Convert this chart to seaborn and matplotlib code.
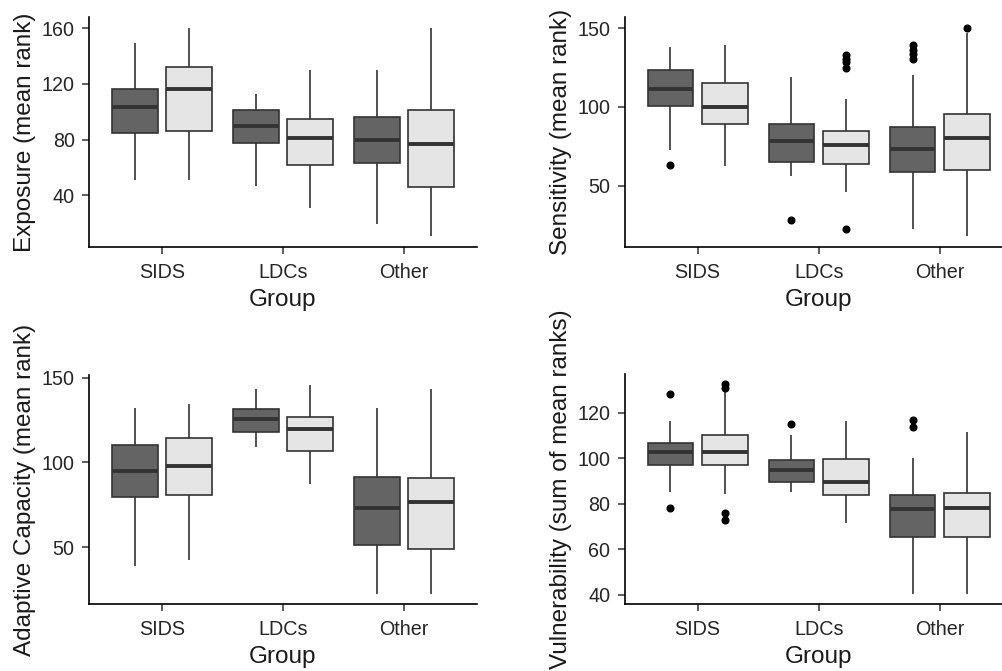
import pandas as pd
import seaborn as sns
import matplotlib.pyplot as plt

# categories
groups = ["SIDS", "LDCs", "Other"]
levels = ["Set A", "Set B"]

# box summaries (lower whisker, Q1, median, Q3, upper whisker), order:
# SIDS-A, SIDS-B, LDCs-A, LDCs-B, Other-A, Other-B
exposure_boxes = [(51.1, 84.6, 103.1, 116.6, 149.2), (51.1, 86.5, 116.1, 132.5, 160.5),
                  (46.7, 77.3, 89.9, 101.0, 112.8), (30.6, 61.7, 81.4, 94.9, 130.4),
                  (19.5, 62.9, 79.8, 96.6, 130.4), (10.4, 46.0, 76.9, 101.0, 160.5)]
exposure_out = [[], [], [], [], [], []]

sensitivity_boxes = [(72.4, 100.7, 111.5, 123.6, 138.0), (62.3, 89.1, 100.1, 115.1, 139.4),
                     (55.9, 65.0, 78.6, 89.3, 118.9), (46.0, 63.7, 76.0, 84.5, 105.2),
                     (22.5, 58.7, 73.5, 87.0, 120.4), (17.7, 60.1, 80.0, 95.5, 147.0)]
sensitivity_out = [[63.3], [], [27.8], [22.5, 124.5, 128.5, 130.5, 133.0],
                   [130.6, 133.5, 136.3, 139.5], [150.4]]

adaptive_boxes = [(38.9, 79.8, 94.7, 110.5, 132.2), (42.5, 80.8, 98.0, 114.2, 134.8),
                  (108.9, 117.8, 125.7, 131.8, 143.1), (87.4, 106.9, 119.8, 127.1, 145.5),
                  (22.5, 51.2, 73.3, 91.5, 132.2), (22.5, 48.6, 76.9, 90.5, 143.1)]
adaptive_out = [[], [], [], [], [], []]

vulner_boxes = [(85.4, 97.0, 102.9, 106.8, 116.6), (84.5, 97.0, 102.9, 110.2, 129.0),
                (85.4, 89.5, 95.0, 99.5, 110.5), (71.5, 83.9, 89.7, 99.8, 116.6),
                (40.6, 65.5, 77.6, 83.9, 100.0), (40.6, 65.5, 78.3, 84.6, 111.5)]
vulner_out = [[78.2, 128.5], [72.9, 75.8, 131.0, 132.5], [115.2], [], [113.9, 116.8], []]

panels = [
    ("Exposure (mean rank)", exposure_boxes, exposure_out, [40, 80, 120, 160]),
    ("Sensitivity (mean rank)", sensitivity_boxes, sensitivity_out, [50, 100, 150]),
    ("Adaptive Capacity (mean rank)", adaptive_boxes, adaptive_out, [50, 100, 150]),
    ("Vulnerability (sum of mean ranks)", vulner_boxes, vulner_out, [40, 60, 80, 100, 120]),
]


def make_table(boxes, outliers, reps=10):
    # observation table whose quartiles / whiskers reproduce the read-off summaries
    rows = []
    i = 0
    for g in groups:
        for lv in levels:
            lo, q1, med, q3, hi = boxes[i]
            vals = [lo] + [q1] * reps + [med] * reps + [q3] * reps + [hi] + list(outliers[i])
            rows += [(g, lv, v) for v in vals]
            i += 1
    return pd.DataFrame(rows, columns=["Group", "Set", "value"])


sns.set_style("ticks")
plt.rcParams['font.family'] = ['Liberation Sans', 'DejaVu Sans']

fig = plt.figure(figsize=(10.02, 6.71), dpi=100)
W, H = 1002, 671
pos = [(89.3, 17.3), (625.0, 17.3), (89.3, 375.0), (625.0, 374.0)]
bottoms = [246.7, 246.7, 604.0, 604.0]

for (lab, boxes, outs, yt), (x0, y0), yb in zip(panels, pos, bottoms):
    ax = fig.add_axes([x0 / W, 1 - yb / H, 387.4 / W, (yb - y0) / H])
    df = make_table(boxes, outs)
    sns.boxplot(data=df, x="Group", y="value", hue="Set", order=groups, hue_order=levels,
                palette=["#646464", "#e5e5e5"], saturation=1, width=0.9, gap=0.16,
                linecolor="#333333", linewidth=1.2, showcaps=False, legend=False,
                medianprops=dict(linewidth=2.8, color="#333333"),
                flierprops=dict(marker="o", markerfacecolor="black", markeredgecolor="black",
                                markersize=4.8), ax=ax)
    vmin, vmax = df.value.min(), df.value.max()
    pad = 0.05 * (vmax - vmin)
    ax.set_ylim(vmin - pad, vmax + pad)
    ax.set_xlim(-0.6, 2.6)
    ax.set_yticks(yt)
    ax.set_ylabel(lab, fontsize=17.5, color="#1a1a1a", labelpad=4)
    ax.set_xlabel("Group", fontsize=17.5, color="#1a1a1a", labelpad=5)
    ax.tick_params(axis="both", labelsize=14.2, labelcolor="#262626", color="#333333",
                   length=5, width=1.1)
    ax.tick_params(axis="x", pad=6.5)
    ax.tick_params(axis="y", pad=5.5)
    for s in ["left", "bottom"]:
        ax.spines[s].set_linewidth(1.2)
        ax.spines[s].set_color("black")
    sns.despine(ax=ax)

fig.savefig("out.png", dpi=100)
